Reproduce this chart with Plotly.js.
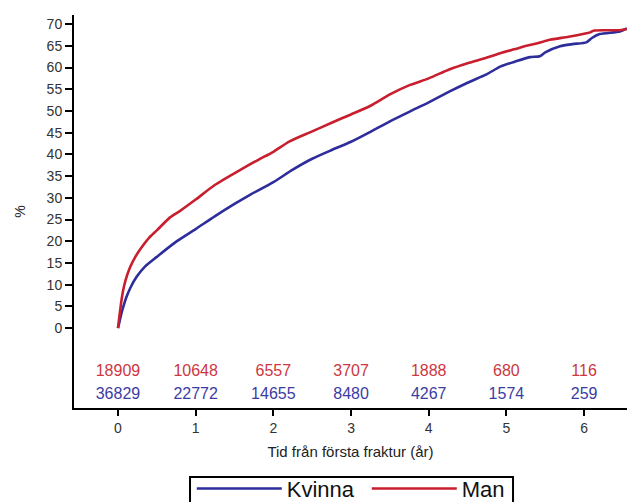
<!DOCTYPE html>
<html>
<head>
<meta charset="utf-8">
<script src="https://cdn.plot.ly/plotly-3.0.1.min.js"></script>
<style>html,body{margin:0;padding:0;background:#fff;}#chart{width:627px;height:502px;}</style>
</head>
<body>
<div id="chart"></div>
<script>
// Kumulativ andel (%) över tid (år) efter första fraktur
const timeMan = [0, 0.02, 0.05, 0.08, 0.12, 0.16, 0.22, 0.3, 0.4, 0.5, 0.67, 0.8, 1.0, 1.25, 1.57, 1.8, 2.0, 2.21, 2.5, 2.75, 3.0, 3.25, 3.5, 3.76, 4.0, 4.27, 4.5, 4.75, 4.92, 5.1, 5.26, 5.4, 5.56, 5.8, 6.03, 6.08, 6.12, 6.46, 6.55];
const valMan  = [0, 3, 7, 9.8, 12.3, 14.2, 16.3, 18.5, 20.8, 22.5, 25.5, 27, 29.6, 33, 36.4, 38.7, 40.6, 43.0, 45.3, 47.3, 49.2, 51.2, 53.8, 56, 57.5, 59.6, 61, 62.3, 63.3, 64.2, 65, 65.6, 66.4, 67.1, 67.9, 68.1, 68.5, 68.6, 68.9];

const timeKvinna = [0, 0.02, 0.05, 0.08, 0.11, 0.16, 0.24, 0.35, 0.5, 0.75, 1.0, 1.25, 1.5, 1.66, 2.0, 2.25, 2.5, 2.75, 3.0, 3.25, 3.5, 3.76, 4.0, 4.27, 4.5, 4.75, 4.92, 5.1, 5.3, 5.43, 5.5, 5.69, 5.85, 6.03, 6.1, 6.2, 6.46, 6.55];
const valKvinna  = [0, 1.5, 3.8, 5.6, 7.2, 9.3, 11.8, 14.2, 16.4, 19.9, 22.8, 25.8, 28.6, 30.3, 33.6, 36.5, 39.0, 41.0, 42.9, 45.2, 47.6, 49.9, 52, 54.5, 56.5, 58.5, 60.2, 61.3, 62.4, 62.6, 63.5, 64.9, 65.4, 65.8, 66.8, 67.7, 68.3, 69];

// Antal i risk
const riskTimes = [0, 1, 2, 3, 4, 5, 6];
const riskMan = [18909, 10648, 6557, 3707, 1888, 680, 116];
const riskKvinna = [36829, 22772, 14655, 8480, 4267, 1574, 259];
const riskRowMan = -10.1;
const riskRowKvinna = -15.4;

const yTicks = [0, 5, 10, 15, 20, 25, 30, 35, 40, 45, 50, 55, 60, 65, 70];
const xTicks = [0, 1, 2, 3, 4, 5, 6];

const RED = 'rgb(200,30,45)';
const BLUE = 'rgb(45,45,155)';

const traces = [
  {x: timeKvinna, y: valKvinna, mode: 'lines', name: 'Kvinna', line: {color: BLUE, width: 2.6, shape: 'spline', smoothing: 0.7}, hoverinfo: 'skip'},
  {x: timeMan, y: valMan, mode: 'lines', name: 'Man', line: {color: RED, width: 2.6, shape: 'spline', smoothing: 0.7}, hoverinfo: 'skip'},
  {x: riskTimes, y: riskTimes.map(() => riskRowMan), mode: 'text', text: riskMan.map(String), showlegend: false, cliponaxis: false,
   textfont: {family: 'Arial, Liberation Sans, sans-serif', size: 16, color: 'rgb(205,55,65)'}, hoverinfo: 'skip'},
  {x: riskTimes, y: riskTimes.map(() => riskRowKvinna), mode: 'text', text: riskKvinna.map(String), showlegend: false, cliponaxis: false,
   textfont: {family: 'Arial, Liberation Sans, sans-serif', size: 16, color: 'rgb(60,60,165)'}, hoverinfo: 'skip'}
];

const layout = {
  width: 627, height: 502,
  margin: {l: 74, r: 0, t: 15, b: 94, pad: 0, autoexpand: false},
  paper_bgcolor: '#fff', plot_bgcolor: '#fff',
  font: {family: 'Arial, Liberation Sans, sans-serif', color: '#222', size: 14},
  showlegend: true,
  legend: {
    orientation: 'h', x: 0.213, xanchor: 'left', y: -0.152, yanchor: 'top',
    borderwidth: 0, bgcolor: 'rgba(0,0,0,0)',
    font: {size: 22, color: '#111'}, itemwidth: 85,
    entrywidth: 75, entrywidthmode: 'pixels'
  },
  shapes: [
    {type: 'rect', xref: 'paper', yref: 'paper', x0: 0.2098, x1: 0.7939, y0: -0.1756, y1: -0.26,
     line: {color: '#000', width: 2}, fillcolor: 'rgba(0,0,0,0)', layer: 'below'}
  ],
  xaxis: {
    range: [-0.566, 6.552], tickvals: xTicks, ticktext: xTicks.map(String),
    showline: true, linecolor: '#000', linewidth: 2,
    ticks: 'outside', ticklen: 6, tickwidth: 2, tickcolor: '#000',
    showgrid: false, zeroline: false,
    tickfont: {size: 14, color: '#333'},
    title: {text: 'Tid från första fraktur (år)', font: {size: 15, color: '#222'}, standoff: 12}
  },
  yaxis: {
    range: [-18.4, 72.1], tickvals: yTicks, ticktext: yTicks.map(String),
    showline: true, linecolor: '#000', linewidth: 2,
    ticks: 'outside', ticklen: 7, tickwidth: 2, tickcolor: '#000',
    showgrid: false, zeroline: false,
    tickfont: {size: 14, color: '#333'},
    title: {text: '%', font: {size: 14, color: '#222'}, standoff: 18}
  }
};

Plotly.newPlot('chart', traces, layout, {displayModeBar: false, staticPlot: true});
</script>
</body>
</html>
